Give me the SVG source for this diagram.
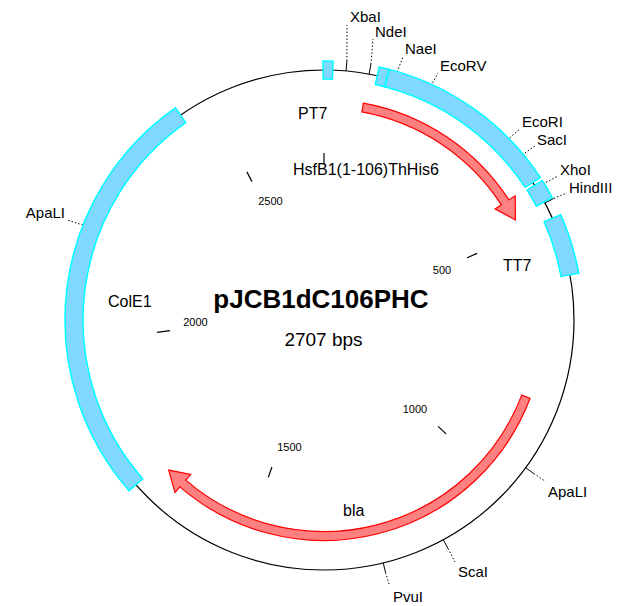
<svg xmlns="http://www.w3.org/2000/svg" width="617" height="606" viewBox="0 0 617 606">
<style>
.bb{fill:#80d8ff;stroke:#00ffff;stroke-width:1.5}
.ar{fill:#ff8080;stroke:#ff0000;stroke-width:1.2}
.tk{stroke:#000;stroke-width:1.2;fill:none}
.sl{stroke:#000;stroke-width:1;fill:none}
.dl{stroke:#000;stroke-width:1;stroke-dasharray:1.5,2;fill:none}
text{font-family:"Liberation Sans",Arial,sans-serif;fill:#000}
.st{font-size:15px}
.ft{font-size:16px}
.nl{font-size:11px;text-anchor:middle}
</style>
<rect width="617" height="606" fill="#fff"/>
<g id="backbone">
<circle cx="324" cy="320" r="250" fill="none" stroke="#000" stroke-width="1.2"/>
</g>
<g id="ticks">
<line class="tk" x1="324" y1="164" x2="324" y2="153"/>
<line class="tk" x1="467.06" y1="257.79" x2="477.15" y2="253.41"/>
<line class="tk" x1="438.09" y1="426.39" x2="446.14" y2="433.89"/>
<line class="tk" x1="271.93" y1="467.05" x2="268.25" y2="477.42"/>
<line class="tk" x1="157" y1="332.3" x2="170" y2="330.7"/>
<line class="tk" x1="251.97" y1="181.63" x2="246.89" y2="171.87"/>
<text class="nl" x="442" y="274">500</text>
<text class="nl" x="415" y="413">1000</text>
<text class="nl" x="289.5" y="451">1500</text>
<text class="nl" x="195.5" y="326">2000</text>
<text class="nl" x="270.5" y="205">2500</text>
</g>
<g id="connectors">
<line class="sl" x1="346" y1="71" x2="346.9" y2="61"/>
<line class="dl" x1="346.9" y1="61" x2="347" y2="25"/>
<line class="sl" x1="369.1" y1="74.1" x2="370.9" y2="64.3"/>
<line class="dl" x1="370.9" y1="64.3" x2="373" y2="39"/>
<line class="dl" x1="397" y1="72" x2="403" y2="57"/>
<line class="dl" x1="431" y1="86" x2="438" y2="73"/>
<line class="dl" x1="507" y1="140" x2="520" y2="129"/>
<line class="dl" x1="522" y1="155" x2="535" y2="146"/>
<line class="dl" x1="543" y1="184" x2="558" y2="176"/>
<line class="sl" x1="545" y1="203" x2="553.8" y2="198.4"/>
<line class="dl" x1="553.8" y1="198.4" x2="567" y2="193"/>
<line class="dl" x1="83" y1="225" x2="67" y2="220"/>
<line class="sl" x1="525.7" y1="467.7" x2="533.8" y2="473.6"/>
<line class="dl" x1="533.8" y1="473.6" x2="545" y2="481"/>
<line class="sl" x1="443.3" y1="539.7" x2="448" y2="548.5"/>
<line class="dl" x1="448" y1="548.5" x2="455" y2="562"/>
<line class="sl" x1="383.2" y1="562.9" x2="385.6" y2="572.6"/>
<line class="dl" x1="385.6" y1="572.6" x2="389" y2="584"/>
</g>
<g id="box-top"><path class="bb" d="M323.10,61.00 A259,259 0 0 1 333.04,61.16 L332.41,79.15 A241,241 0 0 0 323.16,79.00 Z"/></g>
<g id="box-rbs"><path class="bb" d="M379.18,66.94 A259,259 0 0 1 389.29,69.36 L384.75,86.78 A241,241 0 0 0 375.34,84.53 Z"/></g>
<g id="box-hsf"><path class="bb" d="M389.29,69.36 A259,259 0 0 1 540.23,177.43 L525.20,187.33 A241,241 0 0 0 384.75,86.78 Z"/></g>
<g id="box-his"><path class="bb" d="M542.24,180.48 A259,259 0 0 1 552.26,197.61 L536.39,206.12 A241,241 0 0 0 527.08,190.18 Z"/></g>
<g id="box-tt7"><path class="bb" d="M560.61,214.65 A259,259 0 0 1 578.74,273.25 L561.04,276.49 A241,241 0 0 0 544.17,221.98 Z"/></g>
<g id="box-cole1"><path class="bb" d="M129.17,490.66 A259,259 0 0 1 175.44,107.84 L185.77,122.58 A241,241 0 0 0 142.71,478.80 Z"/></g>
<g id="arrow-hsfb1"><path class="ar" d="M363.43,103.05 A220.5,220.5 0 0 1 508.93,199.91 L515.22,195.82 L515.42,219.93 L495.09,208.89 L501.38,204.81 A211.5,211.5 0 0 0 361.82,111.91 Z"/></g>
<g id="arrow-bla"><path class="ar" d="M530.13,398.30 A220.5,220.5 0 0 1 179.92,486.92 L175.02,492.60 L168.62,470.05 L190.70,474.43 L185.80,480.11 A211.5,211.5 0 0 0 521.72,395.11 Z"/></g>
<g id="sites">
<text class="st" x="350" y="22">XbaI</text>
<text class="st" x="375" y="37">NdeI</text>
<text class="st" x="405" y="54">NaeI</text>
<text class="st" x="440" y="71">EcoRV</text>
<text class="st" x="522" y="127">EcoRI</text>
<text class="st" x="537" y="145">SacI</text>
<text class="st" x="560" y="175">XhoI</text>
<text class="st" x="569" y="193">HindIII</text>
<text class="st" x="65" y="218" text-anchor="end">ApaLI</text>
<text class="st" x="548" y="497">ApaLI</text>
<text class="st" x="458" y="577">ScaI</text>
<text class="st" x="393" y="602">PvuI</text>
</g>
<g id="labels">
<text class="ft" x="298" y="119">PT7</text>
<text class="ft" x="293" y="175">HsfB1(1-106)ThHis6</text>
<text class="ft" x="503" y="271">TT7</text>
<text class="ft" x="108" y="307">ColE1</text>
<text class="ft" x="343" y="516">bla</text>
</g>
<g id="title">
<text x="321" y="308" font-size="26" font-weight="bold" text-anchor="middle">pJCB1dC106PHC</text>
<text x="323.5" y="346" font-size="19" text-anchor="middle">2707 bps</text>
</g>
</svg>
